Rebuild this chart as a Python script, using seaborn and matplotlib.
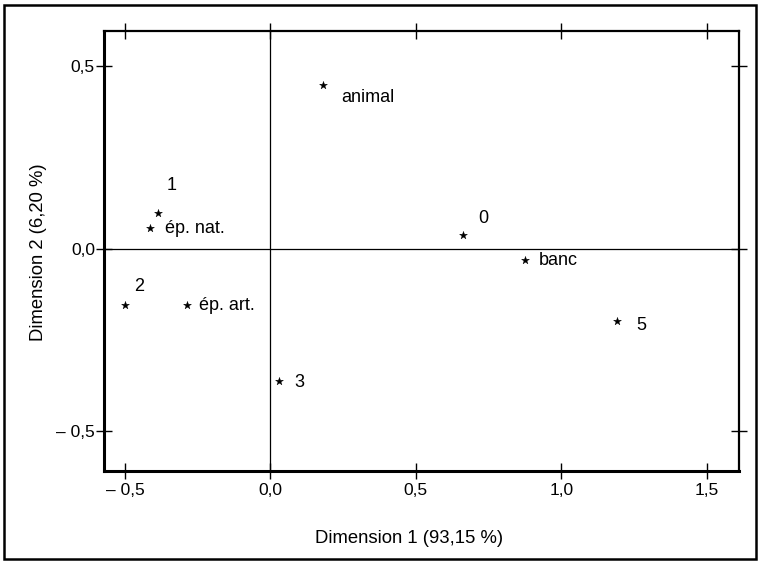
import seaborn as sns
import matplotlib.pyplot as plt
from matplotlib.patches import Rectangle
from matplotlib.ticker import FuncFormatter
import pandas as pd

# modalities and coordinates on the first two dimensions
labels = ['animal', '1', 'ép. nat.', '2', 'ép. art.', '3', '0', 'banc', '5']
dim1 = [0.181, -0.385, -0.413, -0.498, -0.286, 0.030, 0.661, 0.877, 1.193]
dim2 = [0.448, 0.098, 0.057, -0.153, -0.153, -0.361, 0.038, -0.030, -0.197]

x_ticks = [-0.5, 0.0, 0.5, 1.0, 1.5]
y_ticks = [-0.5, 0.0, 0.5]

# label offsets in points (dx, dy)
offsets = {
    'animal': (13, -9), '1': (6, 20), 'ép. nat.': (10.5, -0.5), '2': (6.5, 13),
    'ép. art.': (8.6, -0.5), '3': (11, -1.5), '0': (11, 12), 'banc': (9.4, -0.8),
    '5': (13.7, -3.6),
}

df = pd.DataFrame({'label': labels, 'dim1': dim1, 'dim2': dim2})

sns.set_style('ticks')
plt.rcParams['font.family'] = ['Liberation Sans', 'DejaVu Sans']
plt.rcParams.update({'text.color': 'black', 'axes.labelcolor': 'black',
                     'xtick.color': 'black', 'ytick.color': 'black',
                     'axes.edgecolor': 'black'})

fig = plt.figure(figsize=(7.6, 5.64), dpi=100)
ax = fig.add_axes([0.1368, 0.1649, 0.8355, 0.7807])

ax.axhline(0, color='black', lw=0.9, zorder=1)
ax.axvline(0, color='black', lw=0.9, zorder=1)

sns.scatterplot(data=df, x='dim1', y='dim2', marker='*', s=35, color='black',
                edgecolor='black', linewidth=0.3, ax=ax, zorder=3)

for lab, x, y in zip(labels, dim1, dim2):
    dx, dy = offsets[lab]
    ax.annotate(lab, (x, y), xytext=(dx, dy), textcoords='offset points',
                ha='left', va='center', fontsize=13)

ax.set_xlim(-0.572, 1.611)
ax.set_ylim(-0.609, 0.598)
ax.set_xticks(x_ticks)
ax.set_yticks(y_ticks)

def fmt(v, pos):
    s = f'{abs(v):.1f}'.replace('.', ',')
    return ('\u2013 ' + s) if v < -1e-9 else s

ax.xaxis.set_major_formatter(FuncFormatter(fmt))
ax.yaxis.set_major_formatter(FuncFormatter(fmt))
ax.tick_params(direction='inout', length=11, width=1, labelsize=12.5,
               top=True, right=True)
ax.tick_params(axis='x', pad=3)
ax.tick_params(axis='y', pad=1)

for side in ['left', 'bottom']:
    ax.spines[side].set_linewidth(2.2)
for side in ['top', 'right']:
    ax.spines[side].set_linewidth(1.6)

ax.set_xlabel('Dimension 1 (93,15 %)', fontsize=13.3)
ax.set_ylabel('Dimension 2 (6,20 %)', fontsize=13.3)
ax.xaxis.set_label_coords(0.480, -0.135)
ax.yaxis.set_label_coords(-0.089, 0.497)

fig.patches.append(Rectangle((0.005, 0.008), 0.99, 0.984, transform=fig.transFigure,
                             fill=False, edgecolor='black', lw=1.8))

fig.savefig('out.png', dpi=100, facecolor='white')
